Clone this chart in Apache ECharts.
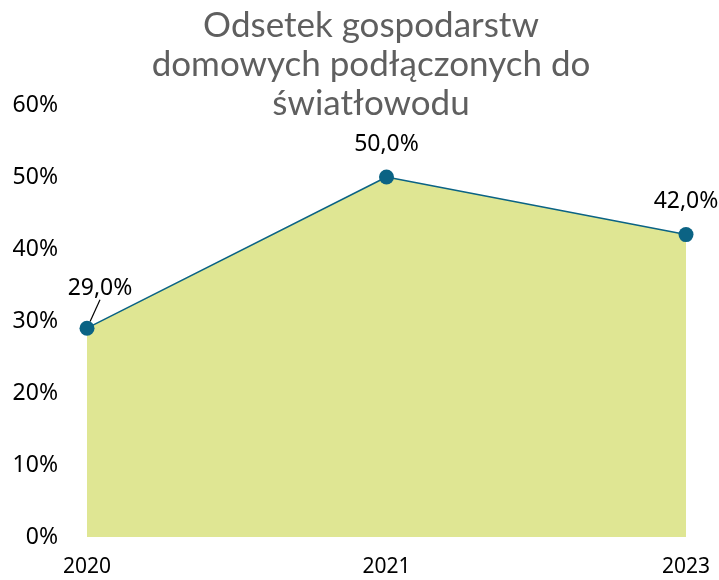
<!DOCTYPE html>
<html>
<head>
<meta charset="utf-8">
<script src="https://cdn.jsdelivr.net/npm/echarts@6/dist/echarts.min.js"></script>
<style>
    html, body {margin: 0; padding: 0; background: #fff;}
    #chart {width: 719px; height: 580px;}
</style>
</head>
<body>
<div id="chart"></div>
<script>
// dane
const years = ['2020', '2021', '2023']
const shares = [29, 50, 42]
const yTicks = [0, 10, 20, 30, 40, 50, 60]

let chart = echarts.init(document.getElementById('chart'))

// linia odniesienia tylko przy pierwszej etykiecie
const seriesData = shares.map((v, i) => ({
    value: v,
    labelLine: {show: i === 0}
}))

const option = {
    title: {
        text: 'Odsetek gospodarstw\ndomowych podłączonych do\nświatłowodu',
        left: 366,
        top: 1,
        textAlign: 'center',
        textStyle: {
            fontFamily: 'Lato',
            fontWeight: 'normal',
            fontSize: 35,
            lineHeight: 39,
            color: '#5f5f5f'
        }
    },
    grid: {
        left: 87,
        right: 33,
        top: 105,
        bottom: 43
    },
    xAxis: {
        type: 'category',
        data: years,
        boundaryGap: false,
        axisLine: {show: false},
        axisTick: {show: false},
        axisLabel: {
            margin: 20,
            fontFamily: 'Noto Sans',
            fontSize: 21,
            color: '#000'
        }
    },
    yAxis: {
        type: 'value',
        min: yTicks[0],
        max: yTicks[yTicks.length - 1],
        interval: 10,
        splitLine: {show: false},
        axisLine: {show: false},
        axisTick: {show: false},
        axisLabel: {
            margin: 29,
            formatter: '{value}%',
            fontFamily: 'Noto Sans',
            fontSize: 23,
            color: '#000'
        }
    },
    series: {
        type: 'line',
        data: seriesData,
        symbol: 'circle',
        symbolSize: 15,
        itemStyle: {color: '#0B6384'},
        lineStyle: {color: '#0B6384', width: 1.5},
        areaStyle: {color: '#DFE693', opacity: 1},
        label: {
            show: true,
            position: 'top',
            distance: 14,
            fontFamily: 'Noto Sans',
            fontSize: 23,
            color: '#000',
            formatter: p => p.value.toFixed(1).replace('.', ',') + '%'
        },
        labelLine: {
            lineStyle: {color: '#000', width: 1.2}
        },
        labelLayout: p => p.dataIndex === 0 ? {dx: 13, dy: -7} : {},
        animation: false
    }
}
chart.setOption(option)
</script>
</body>
</html>
